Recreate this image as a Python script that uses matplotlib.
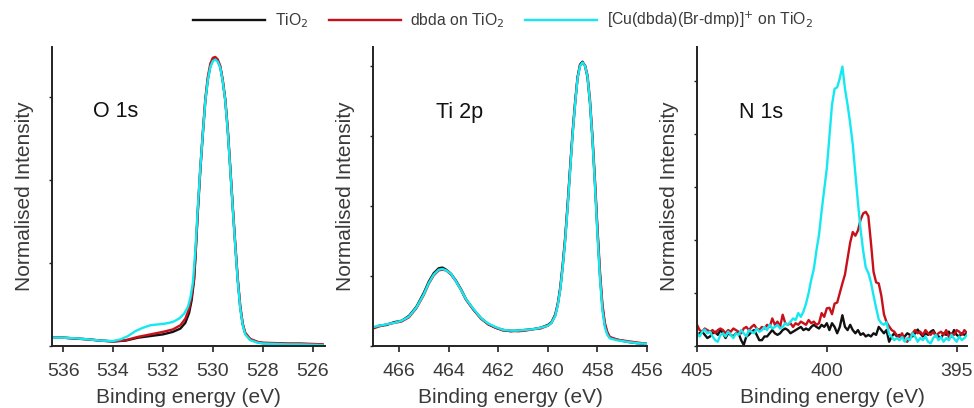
import numpy as np
import matplotlib
matplotlib.use("Agg")
import matplotlib.pyplot as plt

plt.rcParams['font.family'] = ['Liberation Sans Narrow', 'Liberation Sans', 'DejaVu Sans']

# ---- O 1s ----
o1s_x_cu = [536.45, 536.0, 535.5, 535.0, 534.5, 534.0, 533.7, 533.4, 533.1, 532.8, 532.5,
            532.2, 531.9, 531.6, 531.35, 531.15, 531.0, 530.9, 530.8, 530.7, 530.6, 530.5,
            530.4, 530.3, 530.2, 530.1, 530.0, 529.9, 529.8, 529.7, 529.6, 529.5, 529.4,
            529.3, 529.2, 529.1, 529.0, 528.9, 528.8, 528.7, 528.5, 528.2, 528.0, 527.5,
            527.0, 526.5, 526.0, 525.6]
o1s_y_cu = [0.10, 0.10, 0.093, 0.08, 0.065, 0.06, 0.08, 0.12, 0.18, 0.22, 0.25,
            0.26, 0.27, 0.29, 0.33, 0.39, 0.47, 0.58, 0.76, 1.15, 1.68, 2.15,
            2.56, 2.95, 3.20, 3.36, 3.43, 3.45, 3.42, 3.35, 3.18, 2.95, 2.58,
            2.12, 1.65, 1.20, 0.78, 0.45, 0.25, 0.14, 0.07, 0.04, 0.03, 0.025,
            0.02, 0.02, 0.015, 0.01]
o1s_x_tio2 = [536.45, 536.0, 535.5, 535.0, 534.5, 534.0, 533.5, 533.0, 532.5, 532.0, 531.6,
              531.3, 531.1, 530.95, 530.85, 530.75, 530.7, 530.6, 530.5, 530.4, 530.3, 530.2,
              530.1, 530.0, 529.9, 529.8, 529.7, 529.6, 529.5, 529.4, 529.3, 529.2, 529.1,
              529.0, 528.9, 528.8, 528.7, 528.5, 528.2, 528.0, 527.5, 527.0, 526.5, 526.0, 525.6]
o1s_y_tio2 = [0.10, 0.10, 0.09, 0.08, 0.065, 0.055, 0.065, 0.10, 0.12, 0.14, 0.17,
              0.21, 0.28, 0.40, 0.55, 0.80, 1.05, 1.62, 2.12, 2.55, 2.95, 3.21,
              3.37, 3.44, 3.46, 3.43, 3.36, 3.19, 2.96, 2.60, 2.14, 1.67, 1.22,
              0.80, 0.47, 0.26, 0.15, 0.08, 0.045, 0.035, 0.03, 0.025, 0.025, 0.02, 0.015]
o1s_x_dbda = o1s_x_tio2
o1s_y_dbda = [0.10, 0.10, 0.09, 0.08, 0.065, 0.055, 0.07, 0.11, 0.14, 0.17, 0.20,
              0.25, 0.33, 0.45, 0.60, 0.82, 1.08, 1.65, 2.15, 2.58, 2.98, 3.24,
              3.40, 3.47, 3.48, 3.45, 3.37, 3.20, 2.97, 2.61, 2.15, 1.68, 1.23,
              0.81, 0.48, 0.27, 0.16, 0.085, 0.05, 0.04, 0.035, 0.03, 0.03, 0.025, 0.02]

# ---- Ti 2p ----
ti2p_x = [467.05, 466.8, 466.5, 466.2, 465.9, 465.6, 465.3, 465.0, 464.8, 464.6, 464.4,
          464.25, 464.1, 463.9, 463.7, 463.5, 463.3, 463.0, 462.7, 462.4, 462.1, 461.8,
          461.5, 461.2, 460.9, 460.6, 460.3, 460.0, 459.85, 459.7, 459.6, 459.5, 459.4,
          459.3, 459.2, 459.1, 459.0, 458.9, 458.8, 458.7, 458.6, 458.5, 458.4, 458.3,
          458.2, 458.1, 458.0, 457.9, 457.8, 457.7, 457.6, 457.5, 457.2, 456.8, 456.4, 456.0]
ti2p_y_cu = [0.27, 0.29, 0.31, 0.33, 0.36, 0.42, 0.55, 0.74, 0.90, 1.02, 1.09,
             1.10, 1.08, 1.03, 0.92, 0.80, 0.67, 0.53, 0.40, 0.32, 0.27, 0.23,
             0.22, 0.22, 0.23, 0.24, 0.26, 0.29, 0.33, 0.43, 0.58, 0.80, 1.12,
             1.50, 1.98, 2.50, 3.02, 3.45, 3.82, 4.00, 4.05, 4.00, 3.85, 3.48,
             2.95, 2.30, 1.60, 0.98, 0.52, 0.27, 0.16, 0.11, 0.08, 0.06, 0.04, 0.03]
ti2p_y_tio2 = [0.26, 0.29, 0.30, 0.34, 0.36, 0.43, 0.56, 0.76, 0.92, 1.04, 1.11,
               1.12, 1.09, 1.03, 0.93, 0.81, 0.67, 0.52, 0.40, 0.31, 0.26, 0.23,
               0.21, 0.22, 0.23, 0.24, 0.26, 0.30, 0.34, 0.45, 0.60, 0.83, 1.16,
               1.55, 2.03, 2.55, 3.06, 3.48, 3.84, 4.02, 4.06, 4.00, 3.84, 3.47,
               2.96, 2.33, 1.65, 1.03, 0.56, 0.30, 0.18, 0.12, 0.09, 0.06, 0.04, 0.03]
ti2p_y_dbda = [0.25, 0.28, 0.31, 0.33, 0.35, 0.41, 0.54, 0.73, 0.89, 1.01, 1.08,
               1.09, 1.08, 1.02, 0.92, 0.80, 0.66, 0.52, 0.39, 0.31, 0.26, 0.22,
               0.22, 0.21, 0.22, 0.24, 0.25, 0.29, 0.33, 0.44, 0.59, 0.81, 1.13,
               1.52, 2.00, 2.52, 3.03, 3.46, 3.83, 4.01, 4.04, 4.01, 3.87, 3.52,
               3.00, 2.38, 1.70, 1.08, 0.60, 0.33, 0.20, 0.13, 0.09, 0.07, 0.05, 0.03]

# ---- N 1s (0.1 eV steps from 405.0 eV) ----
n1s_start = 405.0
n1s_step = 0.1
n1s_y_tio2 = [0.21, 0.24, 0.27, 0.21, 0.15, 0.18, 0.24, 0.27, 0.21, 0.30,
              0.24, 0.15, 0.24, 0.21, 0.18, 0.24, 0.24, 0.11, 0.02, 0.18,
              0.21, 0.27, 0.30, 0.21, 0.11, 0.11, 0.18, 0.18, 0.24, 0.30,
              0.24, 0.21, 0.24, 0.30, 0.33, 0.30, 0.24, 0.27, 0.30, 0.33,
              0.36, 0.30, 0.33, 0.30, 0.36, 0.40, 0.36, 0.33, 0.40, 0.36,
              0.43, 0.30, 0.43, 0.36, 0.24, 0.36, 0.58, 0.36, 0.30, 0.40,
              0.30, 0.24, 0.30, 0.21, 0.24, 0.18, 0.21, 0.18, 0.24, 0.21,
              0.36, 0.30, 0.24, 0.30, 0.08, 0.18, 0.24, 0.18, 0.21, 0.15,
              0.18, 0.24, 0.21, 0.18, 0.24, 0.31, 0.24, 0.18, 0.24, 0.21,
              0.27, 0.30, 0.21, 0.18, 0.15, 0.24, 0.21, 0.27, 0.18, 0.30,
              0.21, 0.18, 0.24, 0.21, 0.24]
n1s_y_dbda = [0.40, 0.30, 0.27, 0.33, 0.30, 0.27, 0.30, 0.24, 0.30, 0.33,
              0.30, 0.24, 0.30, 0.27, 0.33, 0.30, 0.27, 0.24, 0.33, 0.36,
              0.30, 0.36, 0.40, 0.33, 0.30, 0.36, 0.33, 0.40, 0.36, 0.52,
              0.40, 0.46, 0.36, 0.59, 0.43, 0.40, 0.43, 0.36, 0.43, 0.40,
              0.46, 0.43, 0.40, 0.49, 0.43, 0.46, 0.40, 0.43, 0.62, 0.55,
              0.71, 0.72, 0.60, 0.80, 0.82, 1.00, 1.18, 1.35, 1.65, 1.95,
              2.15, 2.08, 2.18, 2.38, 2.50, 2.53, 2.45, 1.95, 1.40, 1.20,
              1.18, 0.95, 0.60, 0.45, 0.37, 0.30, 0.27, 0.20, 0.17, 0.24,
              0.11, 0.08, 0.18, 0.24, 0.30, 0.24, 0.27, 0.21, 0.30, 0.24,
              0.21, 0.27, 0.18, 0.24, 0.27, 0.21, 0.30, 0.17, 0.24, 0.21,
              0.30, 0.27, 0.21, 0.30, 0.24]
n1s_y_cu = [0.24, 0.18, 0.27, 0.31, 0.24, 0.27, 0.18, 0.11, 0.08, 0.21,
            0.24, 0.18, 0.27, 0.21, 0.15, 0.24, 0.21, 0.30, 0.24, 0.18,
            0.30, 0.27, 0.24, 0.33, 0.27, 0.30, 0.36, 0.30, 0.40, 0.33,
            0.36, 0.40, 0.33, 0.36, 0.43, 0.40, 0.46, 0.52, 0.49, 0.62,
            0.55, 0.65, 0.80, 1.00, 1.25, 1.45, 1.80, 2.10, 2.55, 2.95,
            3.35, 3.95, 4.55, 4.85, 4.88, 5.05, 5.27, 4.85, 4.55, 4.20,
            3.80, 3.25, 2.70, 2.20, 1.80, 1.48, 1.38, 1.20, 0.95, 0.72,
            0.50, 0.43, 0.40, 0.45, 0.22, 0.17, 0.11, 0.15, 0.11, 0.17,
            0.08, 0.15, 0.11, 0.24, 0.18, 0.08, 0.15, 0.11, 0.18, 0.08,
            0.05, 0.15, 0.21, 0.11, 0.17, 0.08, 0.15, 0.11, 0.21, 0.14,
            0.08, 0.18, 0.11, 0.15, 0.21]


def n1s_energy(y):
    return n1s_start - n1s_step * np.arange(len(y))


labels = ["TiO$_2$", "dbda on TiO$_2$", "[Cu(dbda)(Br-dmp)]$^{+}$ on TiO$_2$"]
colors = ["#111111", "#c8101a", "#14e8f0"]
label_col = "#3a3a3a"

fig = plt.figure(figsize=(9.74, 4.08), dpi=100)
W, H = 974.0, 408.0
ax_top, ax_bot = 47, 346
rects = [(52, 325), (373, 647), (697, 967)]
axes = []
for l, r in rects:
    axes.append(fig.add_axes([l / W, (H - ax_bot) / H, (r - l) / W, (ax_bot - ax_top) / H]))

panels = [
    dict(series=[(o1s_x_tio2, o1s_y_tio2), (o1s_x_dbda, o1s_y_dbda), (o1s_x_cu, o1s_y_cu)],
         xlim=(536.45, 525.5), xticks=[536, 534, 532, 530, 528, 526],
         ylim=(0, 3.6), yticks=[0, 1, 2, 3], name="O 1s", name_x=534.8, name_y=2.82),
    dict(series=[(ti2p_x, ti2p_y_tio2), (ti2p_x, ti2p_y_dbda), (ti2p_x, ti2p_y_cu)],
         xlim=(467.05, 456.0), xticks=[466, 464, 462, 460, 458, 456],
         ylim=(0, 4.27), yticks=[0, 1, 2, 3, 4], name="Ti 2p", name_x=464.5, name_y=3.34),
    dict(series=[(n1s_energy(n1s_y_tio2), n1s_y_tio2), (n1s_energy(n1s_y_dbda), n1s_y_dbda),
                 (n1s_energy(n1s_y_cu), n1s_y_cu)],
         xlim=(405.0, 394.6), xticks=[405, 400, 395],
         ylim=(0, 5.64), yticks=[0, 1, 2, 3, 4, 5], name="N 1s", name_x=403.4, name_y=4.4),
]

for ax, p in zip(axes, panels):
    for (x, y), c, lab in zip(p["series"], colors, labels):
        ax.plot(x, y, color=c, lw=1.7, label=lab)
    ax.set_xlim(*p["xlim"])
    ax.set_ylim(*p["ylim"])
    ax.set_xticks(p["xticks"])
    ax.set_yticks(p["yticks"])
    ax.set_yticklabels([])
    for s in ["top", "right"]:
        ax.spines[s].set_visible(False)
    for s in ["left", "bottom"]:
        ax.spines[s].set_linewidth(1.4)
        ax.spines[s].set_color("#222222")
    ax.tick_params(axis="x", direction="out", length=4, width=1.2, pad=8,
                   labelsize=14, labelcolor=label_col, color="#222222")
    ax.tick_params(axis="y", direction="out", length=2.5, width=1.0, color="#222222")
    ax.set_xlabel("Binding energy (eV)", fontsize=15, color=label_col, labelpad=6)
    ax.set_ylabel("Normalised Intensity", fontsize=15, color=label_col)
    ax.yaxis.set_label_coords(-0.065, 0.5)
    ax.text(p["name_x"], p["name_y"], p["name"], fontsize=15.5, color="#111111",
            ha="left", va="center")

handles, labs = axes[0].get_legend_handles_labels()
fig.legend(handles, labs, loc="center", bbox_to_anchor=(503 / W, 1 - 20 / H), ncol=3,
           frameon=False, fontsize=11.3, handlelength=4.6, handletextpad=0.6,
           columnspacing=1.3, labelcolor=label_col)

fig.savefig("out.png", dpi=100)
